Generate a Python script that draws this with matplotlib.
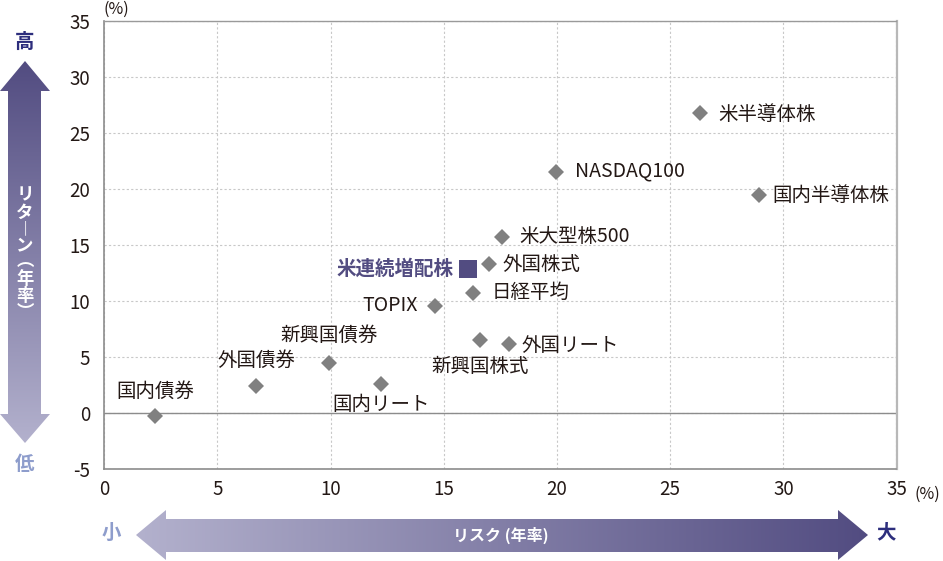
import numpy as np
import matplotlib
matplotlib.use('Agg')
import matplotlib.pyplot as plt
from matplotlib.patches import Polygon

plt.rcParams['font.family'] = ['Noto Sans CJK JP', 'DejaVu Sans']
plt.rcParams['axes.unicode_minus'] = False

# データ（リスク・リターン、年率%）
names = ['国内債券', '外国債券', '新興国債券', '国内リート', 'TOPIX', '外国株式',
         '日経平均', '新興国株式', '外国リート', '米大型株500', 'NASDAQ100',
         '米半導体株', '国内半導体株']
risk = [2.24, 6.71, 9.93, 12.23, 14.59, 16.98, 16.31, 16.61, 17.86, 17.57, 19.96, 26.3, 28.91]
ret = [-0.2, 2.46, 4.46, 2.62, 9.58, 13.3, 10.77, 6.54, 6.16, 15.77, 21.52, 26.79, 19.49]

hl_name = '米連続増配株'
hl_risk = 16.09
hl_ret = 12.86

x_ticks = [0, 5, 10, 15, 20, 25, 30, 35]
y_ticks = [-5, 0, 5, 10, 15, 20, 25, 30, 35]

# ラベル位置（ピクセルオフセット, ha）
lab_pos = {
    '国内債券': (0, 24, 'center'),
    '外国債券': (0, 25, 'center'),
    '新興国債券': (0, 28, 'center'),
    '国内リート': (0, -21, 'center'),
    'TOPIX': (-17, 0, 'right'),
    '外国株式': (14, 0, 'left'),
    '日経平均': (18, 0, 'left'),
    '新興国株式': (0, -27, 'center'),
    '外国リート': (13, -1, 'left'),
    '米大型株500': (17, 0, 'left'),
    'NASDAQ100': (19, 1, 'left'),
    '米半導体株': (19, -1, 'left'),
    '国内半導体株': (14, -1, 'left'),
}

W, H = 943, 561
fig = plt.figure(figsize=(W / 100, H / 100), dpi=100)

# 背景（矢印など）用
bg = fig.add_axes([0, 0, 1, 1])
bg.set_xlim(0, W)
bg.set_ylim(H, 0)
bg.axis('off')


def grad_arrow(pts, ext, c0, c1, vertical):
    n = 256
    t = np.linspace(0, 1, n)
    c0 = np.array(matplotlib.colors.to_rgb(c0))
    c1 = np.array(matplotlib.colors.to_rgb(c1))
    cols = c0[None, :] * (1 - t[:, None]) + c1[None, :] * t[:, None]
    if vertical:
        img = cols[:, None, :]
    else:
        img = cols[None, :, :]
    poly = Polygon(pts, closed=True, facecolor='none', edgecolor='none')
    bg.add_patch(poly)
    im = bg.imshow(img, extent=ext, origin='lower', aspect='auto', interpolation='bilinear')
    im.set_clip_path(poly)


dark = '#524c81'
light = '#b3b1cd'

# 縦矢印（リターン）
vpts = [(25, 61), (50, 91), (41, 91), (41, 414), (50, 414), (25, 443),
        (0, 414), (8, 414), (8, 91), (0, 91)]
grad_arrow(vpts, (0, 50, 443, 61), light, dark, True)

# 横矢印（リスク）
hpts = [(136, 535), (166, 510), (166, 519), (838, 519), (838, 510), (868, 535),
        (838, 560), (838, 552), (166, 552), (166, 560)]
grad_arrow(hpts, (136, 868, 560, 510), light, dark, False)

vtxt = '\n'.join(['リ', 'タ', '︱', 'ン', '︵', '年', '率', '︶'])
bg.text(25, 254, vtxt, color='white', fontsize=12.5, fontweight='bold',
        ha='center', va='center', linespacing=0.9)
bg.text(501, 535, 'リスク (年率)', color='white', fontsize=11.5, fontweight='bold',
        ha='center', va='center')

bg.text(25, 42, '高', color='#2d2e7d', fontsize=14, fontweight='bold', ha='center', va='center')
bg.text(25, 464, '低', color='#8e9dcc', fontsize=14, fontweight='bold', ha='center', va='center')
bg.text(111, 533, '小', color='#8e9dcc', fontsize=14, fontweight='bold', ha='center', va='center')
bg.text(886, 533, '大', color='#2d2e7d', fontsize=14, fontweight='bold', ha='center', va='center')

bg.text(116, 9, '(%)', color='#231815', fontsize=11.5, ha='center', va='center')
bg.text(927, 494, '(%)', color='#231815', fontsize=11.5, ha='center', va='center')

# 散布図
ax = fig.add_axes([104.3 / W, 1 - 469.3 / H, (896.5 - 104.3) / W, (469.3 - 21) / H])
ax.set_xlim(0, 35)
ax.set_ylim(-5, 35)
ax.set_xticks(x_ticks)
ax.set_yticks(y_ticks)
ax.grid(True, color='#c8c8c8', linestyle=(0, (2, 2)), linewidth=0.8)
ax.set_axisbelow(True)
ax.axhline(0, color='#8c8c8c', linewidth=1, zorder=1)
ax.tick_params(length=0, labelsize=13.5, colors='#231815')
ax.tick_params(axis='y', pad=10)
ax.tick_params(axis='x', pad=7)
for s in ['left', 'bottom']:
    ax.spines[s].set_color('#8c8c8c')
    ax.spines[s].set_linewidth(1.2)
ax.spines['top'].set_color('#9a9a9a')
ax.spines['top'].set_linewidth(1)
ax.spines['right'].set_color('#b8b8b8')
ax.spines['right'].set_linewidth(1.6)

ax.plot(risk, ret, linestyle='none', marker='D', markersize=8.2,
        color='#808080', markeredgewidth=0, zorder=3)
for n, x, y in zip(names, risk, ret):
    dx, dy, ha = lab_pos[n]
    ax.annotate(n, (x, y), xytext=(dx, dy), textcoords='offset pixels',
                ha=ha, va='center', fontsize=14, color='#231815')

ax.plot([hl_risk], [hl_ret], linestyle='none', marker='s', markersize=13,
        color='#524c81', markeredgewidth=0, zorder=3)
ax.annotate(hl_name, (hl_risk, hl_ret), xytext=(-15, 0), textcoords='offset pixels',
            ha='right', va='center', fontsize=14, fontweight='bold', color='#524c81')

fig.savefig('out.png', dpi=100)
